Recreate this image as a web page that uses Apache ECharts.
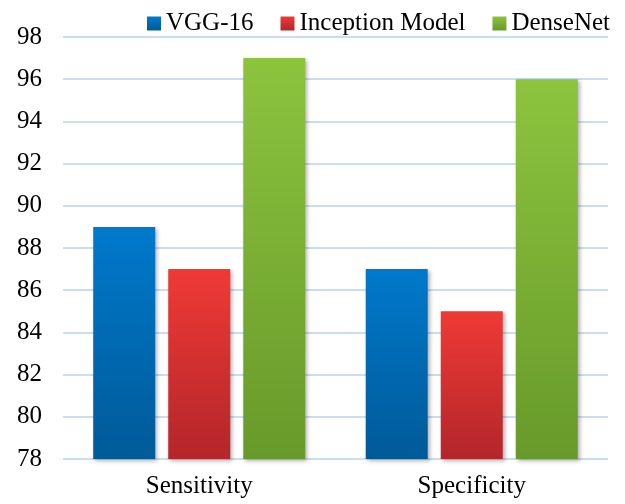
<!DOCTYPE html>
<html>
<head>
<meta charset="utf-8">
<script src="https://cdn.jsdelivr.net/npm/echarts@6/dist/echarts.min.js"></script>
<style>
  html, body { margin: 0; padding: 0; background: #fff; }
  #main { width: 625px; height: 504px; }
</style>
</head>
<body>
<div id="main"></div>
<script>
// values
var categories = ['Sensitivity', 'Specificity'];
var vgg16 = [89, 87];
var inception = [87, 85];
var densenet = [97, 96];

var FONT = '"Liberation Serif", "Times New Roman", serif';

// vertical gradient, lighter at the top
function grad(top, bottom) {
  return new echarts.graphic.LinearGradient(0, 0, 0, 1, [
    { offset: 0, color: top },
    { offset: 1, color: bottom }
  ]);
}

function barSeries(name, data, top, bottom) {
  return {
    name: name,
    type: 'bar',
    data: data,
    barWidth: 62,
    barGap: '21%',
    itemStyle: {
      color: grad(top, bottom),
      shadowColor: 'rgba(0,0,0,0.3)',
      shadowBlur: 4,
      shadowOffsetX: 2,
      shadowOffsetY: 2
    }
  };
}

var myChart = echarts.init(document.getElementById('main'));
var option = {
  animation: false,
  legend: {
    top: 6,
    right: 10,
    itemWidth: 14,
    itemHeight: 14,
    itemGap: 27,
    icon: 'rect',
    textStyle: { fontFamily: FONT, fontSize: 25, color: '#000' },
    data: ['VGG-16', 'Inception Model', 'DenseNet']
  },
  grid: { left: 63, right: 17, top: 37, bottom: 45 },
  xAxis: {
    type: 'category',
    data: categories,
    axisLine: { show: false },
    axisTick: { show: false },
    axisLabel: { fontFamily: FONT, fontSize: 25, color: '#000', margin: 15 }
  },
  yAxis: {
    type: 'value',
    min: 78,
    max: 98,
    interval: 2,
    axisLine: { show: false },
    axisTick: { show: false },
    axisLabel: { fontFamily: FONT, fontSize: 25, color: '#000', margin: 21 },
    splitLine: { lineStyle: { color: '#c9def2', width: 2 } }
  },
  series: [
    barSeries('VGG-16', vgg16, '#0079cc', '#005a98'),
    barSeries('Inception Model', inception, '#ef3a36', '#b3262a'),
    barSeries('DenseNet', densenet, '#8cc43e', '#679a2a')
  ]
};
myChart.setOption(option);
</script>
</body>
</html>
